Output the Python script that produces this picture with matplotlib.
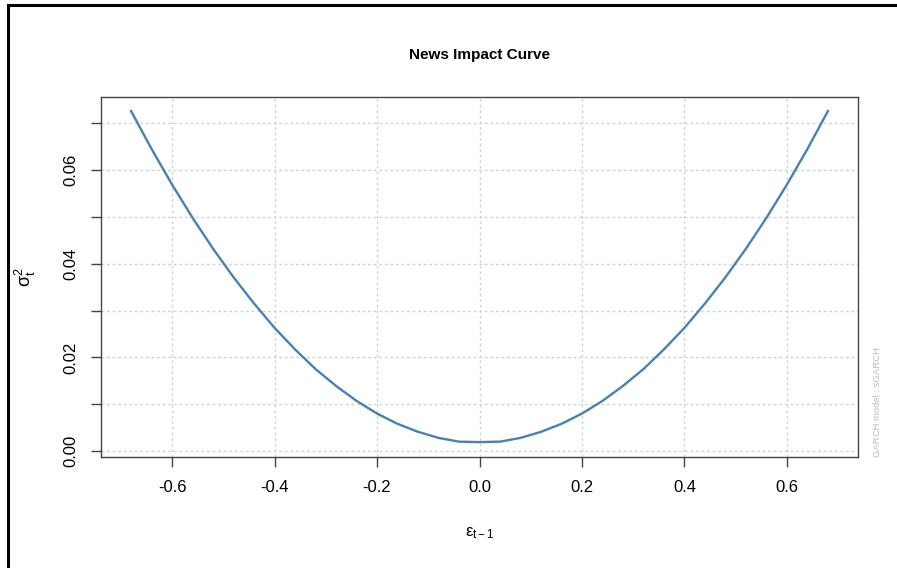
import matplotlib
matplotlib.use('Agg')
import matplotlib.pyplot as plt
from matplotlib.lines import Line2D

plt.rcParams['font.family'] = ['Liberation Sans', 'DejaVu Sans']
plt.rcParams['mathtext.fontset'] = 'custom'
plt.rcParams['mathtext.rm'] = 'Liberation Sans'
plt.rcParams['mathtext.it'] = 'Liberation Sans'

# Dados (curva de impacto de notícias)
eps = [-0.68, -0.64, -0.60, -0.56, -0.52, -0.48, -0.44, -0.40, -0.36, -0.32, -0.28,
       -0.24, -0.20, -0.16, -0.12, -0.08, -0.04, 0.00, 0.04, 0.08, 0.12, 0.16, 0.20,
       0.24, 0.28, 0.32, 0.36, 0.40, 0.44, 0.48, 0.52, 0.56, 0.60, 0.64, 0.68]
sigma2 = [0.0726, 0.0645, 0.0569, 0.0498, 0.0432, 0.0371, 0.0315, 0.0263, 0.0217,
          0.0175, 0.0139, 0.0107, 0.0080, 0.0058, 0.0041, 0.0028, 0.0020, 0.0019,
          0.0020, 0.0028, 0.0041, 0.0058, 0.0080, 0.0107, 0.0139, 0.0175, 0.0217,
          0.0263, 0.0315, 0.0371, 0.0432, 0.0498, 0.0569, 0.0645, 0.0726]

xticks = [-0.6, -0.4, -0.2, 0.0, 0.2, 0.4, 0.6]
xlabels = ['-0.6', '-0.4', '-0.2', '0.0', '0.2', '0.4', '0.6']
yticks = [0.00, 0.01, 0.02, 0.03, 0.04, 0.05, 0.06, 0.07]
ylabels = ['0.00', '', '0.02', '', '0.04', '', '0.06', '']

fig = plt.figure(figsize=(8.97, 5.68), dpi=100)
ax = fig.add_axes([101/897, 1 - 457/568, 757/897, 360/568])

# grade pontilhada
for x in xticks:
    ax.axvline(x, color='#d3d3d3', lw=1, ls=(0, (2, 2)), zorder=0)
for y in yticks:
    ax.axhline(y, color='#d3d3d3', lw=1, ls=(0, (2, 2)), zorder=0)

ax.plot(eps, sigma2, color='#4682B4', lw=1.7)

ax.set_xlim(-0.7387, 0.7387)
ax.set_ylim(-0.00128, 0.0756)
ax.set_xticks(xticks)
ax.set_xticklabels(xlabels, fontsize=12)
ax.set_yticks(yticks)
ax.set_yticklabels(ylabels, fontsize=12, rotation=90, va='center')
ax.tick_params(direction='out', length=7.5, width=1, color='#444444', pad=9)
for s in ax.spines.values():
    s.set_color('#444444')
    s.set_linewidth(1)

ax.set_title('News Impact Curve', fontsize=11, fontweight='bold', pad=27)
ax.set_xlabel(r'$\varepsilon_{t-1}$', fontsize=12, labelpad=22)
ax.set_ylabel(r'$\sigma_t^2$', fontsize=13, labelpad=18)

ax.text(1.02, 0.0, 'GARCH model : sGARCH', transform=ax.transAxes, rotation=90,
        ha='left', va='bottom', fontsize=6.8, color='#bbbbbb')

# moldura da captura de tela
fig.add_artist(Line2D([8/897, 1], [1 - 5/568, 1 - 5/568], color='black', lw=2.2,
                      transform=fig.transFigure))
fig.add_artist(Line2D([8/897, 8/897], [0, 1 - 5/568], color='black', lw=2.2,
                      transform=fig.transFigure))

fig.savefig('out.png', dpi=100)
